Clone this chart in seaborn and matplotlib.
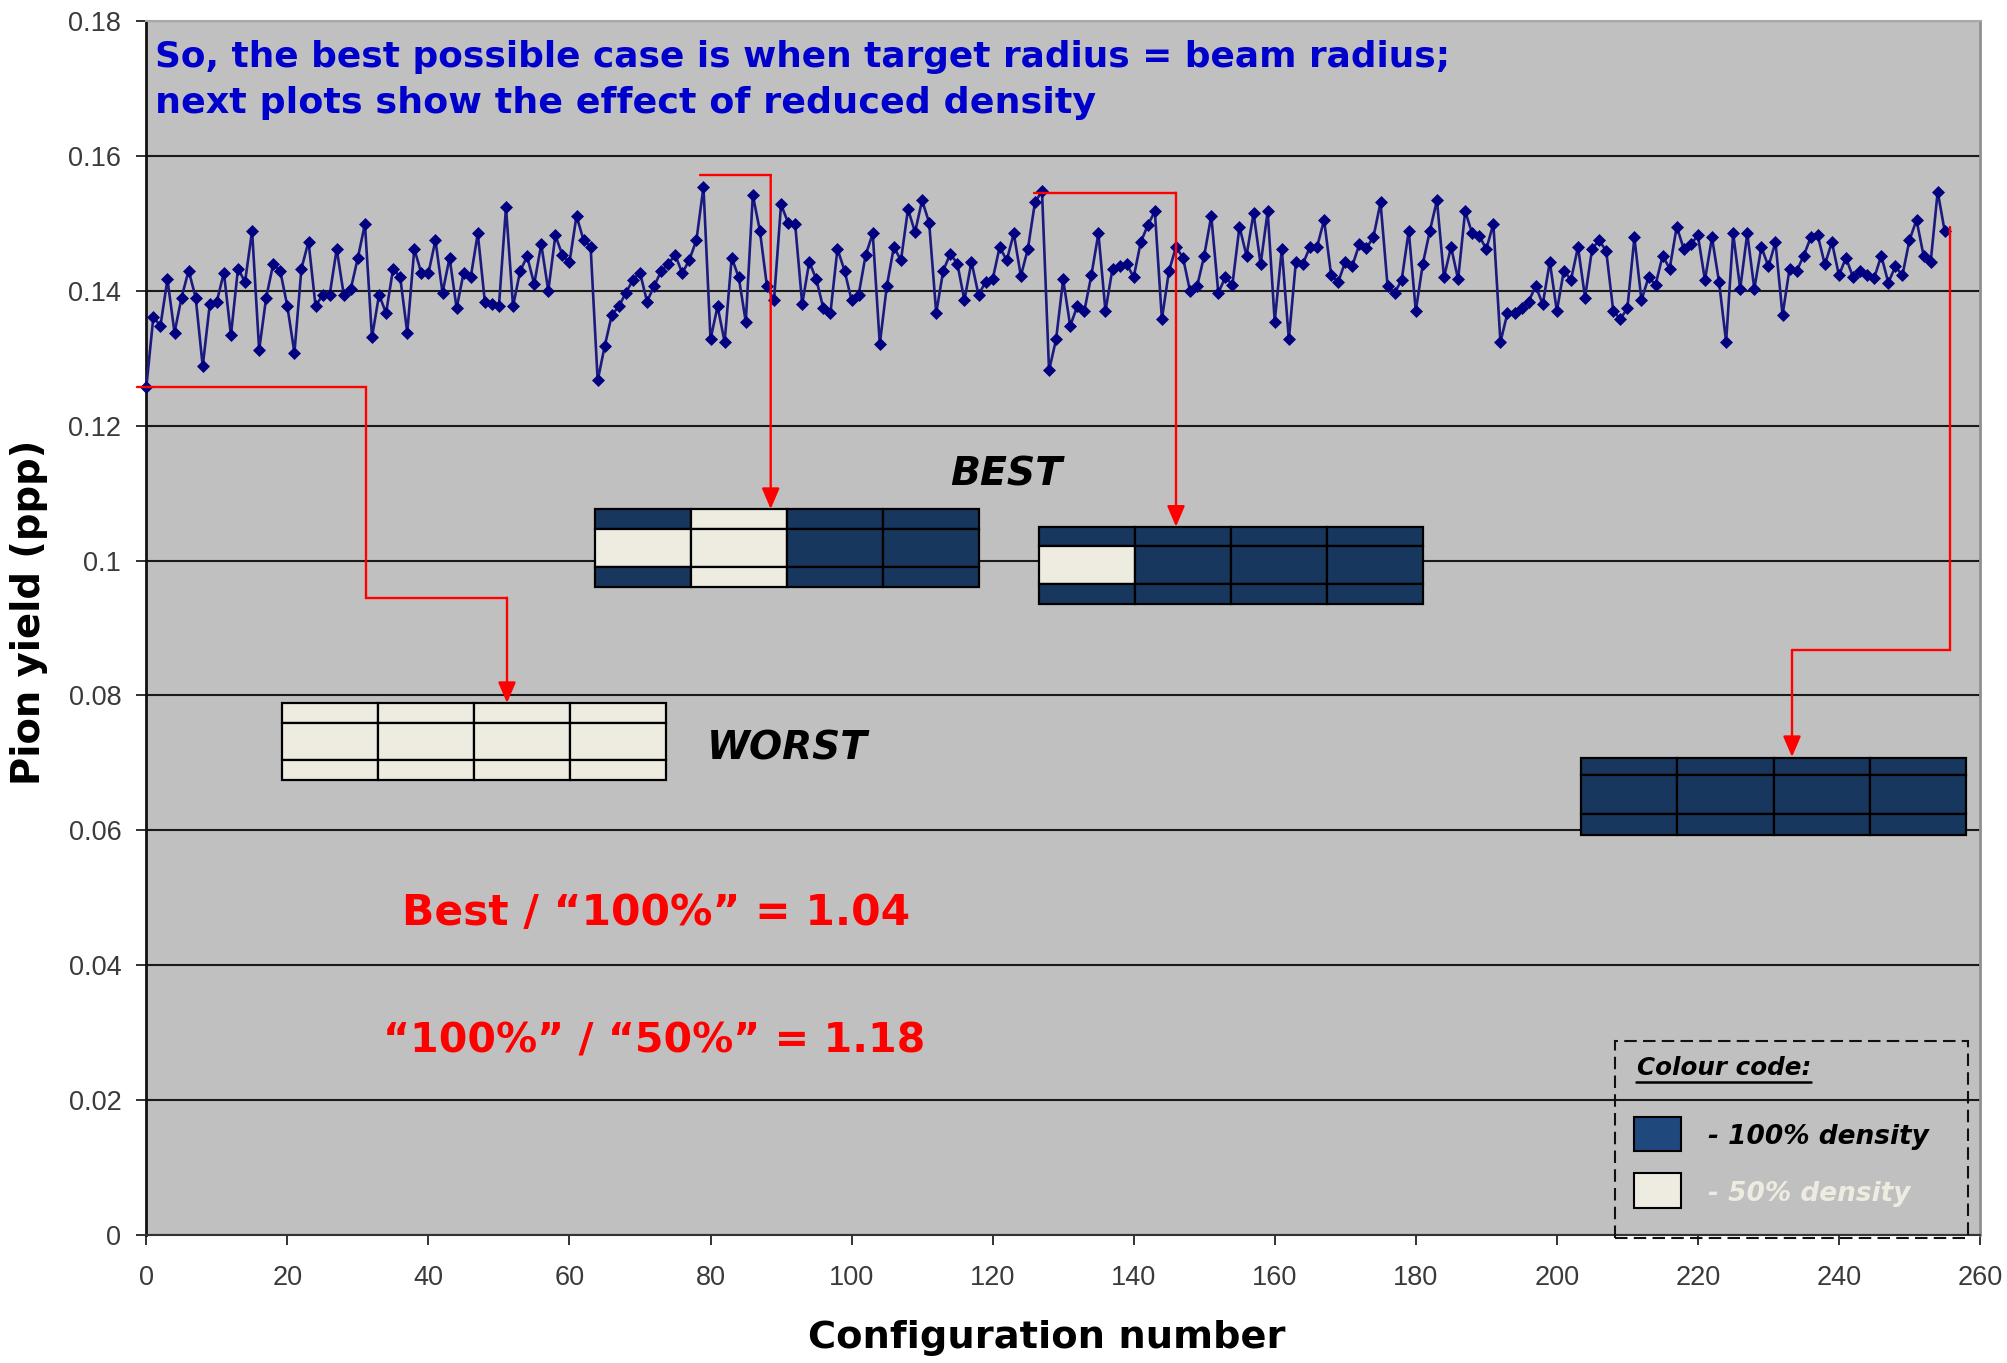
import matplotlib
matplotlib.use("Agg")
import matplotlib.pyplot as plt
from matplotlib.patches import Rectangle
import numpy as np
import pandas as pd
import seaborn as sns

# ---------- data ----------
yield_0_63 = [.1257,.1361,.1348,.1417,.1338,.1390,.1430,.1390,.1288,.1380,.1384,.1427,.1334,.1433,.1413,.1489,
              .1312,.1390,.1440,.1429,.1377,.1308,.1433,.1473,.1377,.1394,.1394,.1462,.1394,.1403,.1449,.1499,
              .1331,.1394,.1367,.1433,.1420,.1338,.1462,.1426,.1426,.1475,.1397,.1449,.1374,.1427,.1420,.1485,
              .1384,.1380,.1377,.1524,.1377,.1429,.1451,.1410,.1469,.1400,.1482,.1453,.1442,.1511,.1475,.1465]
yield_64_127 = [.1267,.1318,.1364,.1377,.1397,.1416,.1427,.1384,.1407,.1429,.1440,.1453,.1426,.1446,.1475,.1554,
                .1328,.1377,.1324,.1449,.1420,.1354,.1542,.1489,.1407,.1386,.1528,.1501,.1499,.1380,.1443,.1417,
                .1374,.1367,.1462,.1430,.1386,.1394,.1453,.1485,.1321,.1407,.1465,.1445,.1521,.1487,.1534,.1501,
                .1367,.1430,.1455,.1440,.1386,.1443,.1394,.1413,.1417,.1465,.1445,.1485,.1422,.1462,.1531,.1548]
yield_128_191 = [.1282,.1328,.1417,.1348,.1377,.1370,.1423,.1485,.1370,.1433,.1436,.1440,.1420,.1472,.1497,.1518,
                 .1358,.1429,.1465,.1449,.1399,.1407,.1452,.1511,.1397,.1420,.1409,.1495,.1452,.1515,.1439,.1518,
                 .1354,.1462,.1328,.1443,.1440,.1465,.1465,.1505,.1423,.1413,.1443,.1437,.1469,.1463,.1480,.1531,
                 .1407,.1397,.1416,.1489,.1370,.1440,.1489,.1534,.1420,.1465,.1417,.1518,.1485,.1481,.1462,.1499]
yield_192_255 = [.1324,.1367,.1367,.1374,.1384,.1407,.1380,.1443,.1370,.1430,.1416,.1465,.1390,.1462,.1475,.1459,
                 .1370,.1358,.1374,.1479,.1386,.1420,.1409,.1452,.1433,.1495,.1462,.1469,.1482,.1416,.1479,.1413,
                 .1324,.1485,.1403,.1485,.1403,.1465,.1436,.1472,.1364,.1433,.1429,.1452,.1479,.1482,.1439,.1472,
                 .1423,.1449,.1420,.1429,.1423,.1419,.1452,.1412,.1436,.1423,.1475,.1505,.1452,.1442,.1547,.1488]
x_ticks = list(range(0, 261, 20))
y_ticks = [0, .02, .04, .06, .08, .10, .12, .14, .16, .18]
y_tick_labels = ["0", "0.02", "0.04", "0.06", "0.08", "0.1", "0.12", "0.14", "0.16", "0.18"]

NAVY, CREAM, LEG_NAVY = "#17375E", "#EEECE1", "#1F497D"
RED, BLUE = "#FF0000", "#0000CC"
COMIC = "DejaVu Sans"

sns.set_theme(style="white")
plt.rcParams["font.family"] = ["Liberation Sans", "DejaVu Sans"]

W, H = 2007, 1363
L, R, T, B = 146.3, 1980, 21, 1235
fig = plt.figure(figsize=(W / 100, H / 100), dpi=100)
ax = fig.add_axes([L / W, (H - B) / H, (R - L) / W, (B - T) / H])
ax.set_facecolor("#C0C0C0")

values = yield_0_63 + yield_64_127 + yield_128_191 + yield_192_255
df = pd.DataFrame({"config": np.arange(len(values)), "pion": values})
sns.lineplot(data=df, x="config", y="pion", ax=ax, color="#1A1A80", lw=1.9,
             marker="D", markersize=6.0, markerfacecolor="#000080",
             markeredgecolor="#000080", markeredgewidth=0.5, zorder=3, clip_on=False)

ax.set_xlim(0, 260)
ax.set_ylim(0, 0.18)
ax.set_xticks(x_ticks)
ax.set_yticks(y_ticks, y_tick_labels)
ax.set_axisbelow(True)
ax.grid(axis="y", color="#1a1a1a", lw=1.5)
ax.grid(axis="x", visible=False)
ax.tick_params(axis="both", length=7, width=1.3, color="#222222", labelsize=19.5,
               labelcolor="#3a3a3a", left=True, bottom=True)
ax.tick_params(axis="x", pad=14.5)
ax.tick_params(axis="y", pad=11)
ax.set_xlabel("")
ax.set_ylabel("")
for s, c, w in [("left", "#111111", 2.0), ("bottom", "#333333", 1.5), ("right", "#909090", 2.0), ("top", "#A8A8A8", 1.5)]:
    ax.spines[s].set_visible(True)
    ax.spines[s].set_color(c)
    ax.spines[s].set_linewidth(w)


def DX(px):
    return (px - L) / (R - L) * 260


def DY(py):
    return (B - py) / (B - T) * 0.18


renderer = fig.canvas.get_renderer()


def fit(s, x0, x1, yc, color="black", style="normal", weight="bold", size=20):
    t = ax.text(DX(x0), DY(yc), s, color=color, style=style, weight=weight, family=COMIC,
                ha="left", va="center", fontsize=size, zorder=6, clip_on=False)
    t.set_fontsize(size * (x1 - x0) / t.get_window_extent(renderer).width)
    return t


def table(x0, x1, y0, y1, r1, r2, cream):
    """Four-column, three-row schematic; cream is the set of (col, row) at 50 % density."""
    xs = np.linspace(x0, x1, 5)
    ys = [y0, r1, r2, y1]
    for c in range(4):
        for r in range(3):
            fc = CREAM if (c, r) in cream else NAVY
            ax.add_patch(Rectangle((DX(xs[c]), DY(ys[r + 1])), DX(xs[c + 1]) - DX(xs[c]),
                                   DY(ys[r]) - DY(ys[r + 1]), fc=fc, ec="black", lw=1.6, zorder=4))


ALL = {(c, r) for c in range(4) for r in range(3)}
table(282, 666, 703, 780, 723, 760, ALL)
table(594.5, 979, 509, 586.5, 528.7, 567, {(0, 1), (1, 0), (1, 1), (1, 2)})
table(1039, 1423, 526.7, 604, 546, 584.3, {(0, 1)})
table(1581, 1966, 758, 835, 774.5, 814, set())


def connector(path):
    xs = [DX(p[0]) for p in path[:-1]]
    ys = [DY(p[1]) for p in path[:-1]]
    ax.plot(xs, ys, color=RED, lw=1.7, zorder=5, clip_on=False, solid_joinstyle="miter")
    ax.annotate("", xy=(DX(path[-1][0]), DY(path[-1][1])), xytext=(xs[-1], ys[-1]),
                arrowprops=dict(arrowstyle="-|>,head_length=1.05,head_width=0.45", color=RED, lw=1.7,
                                shrinkA=0, shrinkB=0), zorder=5)


connector([(137, 386.7), (366, 386.7), (366, 597.7), (507, 597.7), (507, 703)])
connector([(700, 175), (770.7, 175), (770.7, 509)])
connector([(1034, 192.7), (1176, 192.7), (1176, 526.7)])
connector([(1950, 227), (1950, 650), (1792, 650), (1792, 757)])

# texts
fit("So, the best possible case is when target radius = beam radius;", 155, 1451, 57.5, color=BLUE)
fit("next plots show the effect of reduced density", 155, 1094, 102.5, color=BLUE)
fit("BEST", 950, 1062, 474, style="italic")
fit("WORST", 707, 868, 749, style="italic")
fit("Best / \u201c100%\u201d = 1.04", 402, 909, 913, color=RED)
fit("\u201c100%\u201d / \u201c50%\u201d = 1.18", 383, 925, 1042, color=RED)
fit("Configuration number", 808, 1286, 1338)
t = ax.text(DX(29), DY(612), "Pion yield (ppp)", rotation=90, family=COMIC, weight="bold", color="black",
            ha="center", va="center", fontsize=30, clip_on=False, zorder=6)
t.set_fontsize(30 * 345 / t.get_window_extent(renderer).height)

# colour-code key
ax.add_patch(Rectangle((DX(1615), DY(1238)), DX(1968) - DX(1615), DY(1040.7) - DY(1238), fc="none", ec="#111111",
                       lw=1.5, ls=(0, (6, 3)), zorder=6, clip_on=False))
fit("Colour code:", 1637, 1811, 1068, style="italic")
ax.plot([DX(1636), DX(1811)], [DY(1082), DY(1082)], color="black", lw=1.8, zorder=6)
ax.add_patch(Rectangle((DX(1634), DY(1151)), DX(1681) - DX(1634), DY(1117) - DY(1151), fc=LEG_NAVY, ec="black", lw=1.5, zorder=6))
ax.add_patch(Rectangle((DX(1634), DY(1208)), DX(1681) - DX(1634), DY(1173) - DY(1208), fc=CREAM, ec="black", lw=1.5, zorder=6))
fit("- 100% density", 1708, 1928, 1137, style="italic")
fit("- 50% density", 1708, 1910, 1194, color=CREAM, style="italic")

fig.savefig("out.png", dpi=100, facecolor="white")
